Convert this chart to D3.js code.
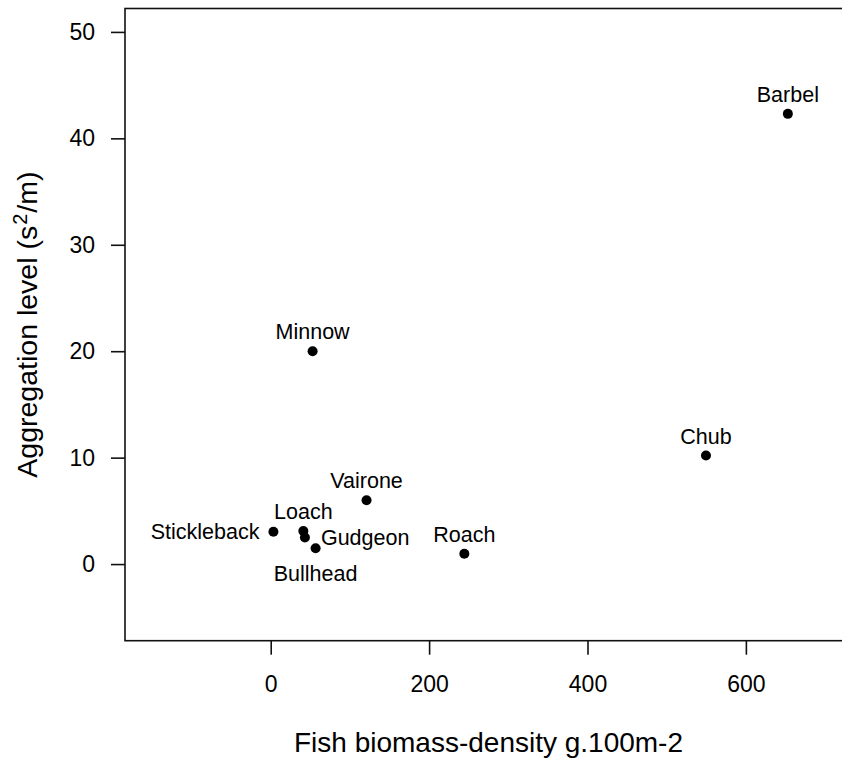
<!DOCTYPE html>
<html>
<head>
<meta charset="utf-8">
<script src="https://cdn.jsdelivr.net/npm/d3@7"></script>
<style>
  html, body { margin: 0; padding: 0; background: #fff; }
  text { font-family: "Liberation Sans", Arial, sans-serif; fill: #000; }
</style>
</head>
<body>
<svg id="chart" width="842" height="760"></svg>
<script>
// ---- data ----
const species   = ["Barbel", "Chub", "Minnow", "Vairone", "Roach", "Stickleback", "Loach", "Gudgeon", "Bullhead"];
const biomass   = [653, 549.6, 52.9, 121, 244.5, 3.4, 41.2, 43.2, 56.7];
const aggregation = [42.3, 10.2, 20.0, 6.0, 0.97, 3.04, 3.1, 2.5, 1.48];
const labelSide = ["above", "above", "above", "above", "above", "left", "above", "right", "below"];
const xTicks = [0, 200, 400, 600];
const yTicks = [0, 10, 20, 30, 40, 50];
const xDomain = [-184, 734];
const yDomain = [-7.2, 52.2];
const xTitle = "Fish biomass-density g.100m-2";
const yTitleParts = ["Aggregation level (s", "2", "/m)"];

// ---- layout ----
const svg = d3.select("#chart");
const plotL = 125, plotR = 852, plotT = 8.5, plotB = 640.7;

const x = d3.scaleLinear().domain(xDomain).range([plotL, plotR]);
const y = d3.scaleLinear().domain(yDomain).range([plotB, plotT]);

// box
svg.append("rect")
  .attr("x", plotL).attr("y", plotT)
  .attr("width", plotR - plotL).attr("height", plotB - plotT)
  .attr("fill", "none").attr("stroke", "#111").attr("stroke-width", 1.6);

// x axis
const xAxis = d3.axisBottom(x).tickValues(xTicks).tickSize(14).tickPadding(21).tickFormat(d3.format("d"));
const gx = svg.append("g").attr("transform", `translate(0,${plotB})`).call(xAxis);
gx.select(".domain").remove();
gx.selectAll(".tick line").attr("stroke", "#111").attr("stroke-width", 1.6);
gx.selectAll(".tick text").attr("font-size", 23).attr("fill", "#000")
  .attr("font-family", "Liberation Sans, Arial, sans-serif");

// y axis
const yAxis = d3.axisLeft(y).tickValues(yTicks).tickSize(14).tickPadding(16).tickFormat(d3.format("d"));
const gy = svg.append("g").attr("transform", `translate(${plotL},0)`).call(yAxis);
gy.select(".domain").remove();
gy.selectAll(".tick line").attr("stroke", "#111").attr("stroke-width", 1.6);
gy.selectAll(".tick text").attr("font-size", 23).attr("fill", "#000")
  .attr("font-family", "Liberation Sans, Arial, sans-serif");

// titles
svg.append("text")
  .attr("x", (plotL + plotR) / 2).attr("y", 752)
  .attr("text-anchor", "middle").attr("font-size", 28)
  .text(xTitle);

const yt = svg.append("text")
  .attr("transform", `translate(37,${(plotT + plotB) / 2}) rotate(-90)`)
  .attr("text-anchor", "middle").attr("font-size", 28.5);
yt.append("tspan").text(yTitleParts[0]);
yt.append("tspan").attr("font-size", 20).attr("dy", -10).attr("dx", 1).text(yTitleParts[1]);
yt.append("tspan").attr("dy", 10).attr("dx", 1).text(yTitleParts[2]);

// points
const data = species.map((s, i) => ({ name: s, bx: biomass[i], ay: aggregation[i], side: labelSide[i] }));

svg.append("g").selectAll("circle").data(data).join("circle")
  .attr("cx", d => x(d.bx)).attr("cy", d => y(d.ay))
  .attr("r", 5).attr("fill", "#000");

// labels
svg.append("g").selectAll("text").data(data).join("text")
  .attr("font-size", 21.5)
  .attr("x", d => {
    const px = x(d.bx);
    if (d.side === "left") return px - 14;
    if (d.side === "right") return px + 16;
    return px;
  })
  .attr("y", d => {
    const py = y(d.ay);
    if (d.side === "above") return py - 12;
    if (d.side === "below") return py + 33;
    return py + 7.7;
  })
  .attr("text-anchor", d => d.side === "left" ? "end" : d.side === "right" ? "start" : "middle")
  .text(d => d.name);
</script>
</body>
</html>
